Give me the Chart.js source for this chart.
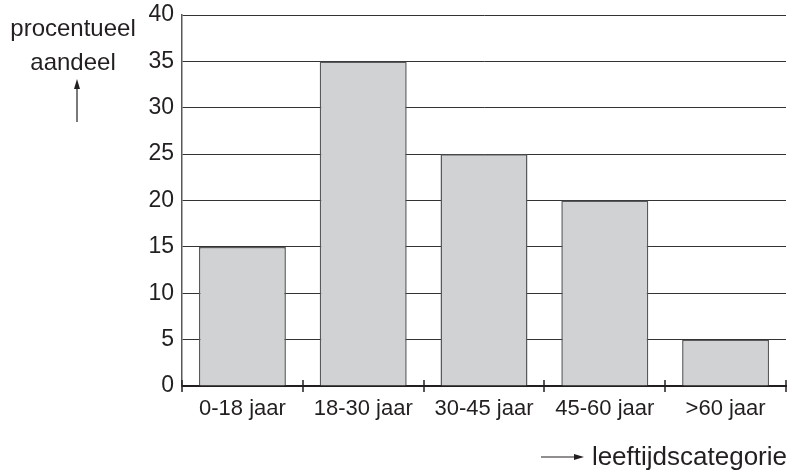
<!DOCTYPE html>
<html>
<head>
<meta charset="utf-8">
<script src="https://cdn.jsdelivr.net/npm/chart.js@4/dist/chart.umd.min.js"></script>
<style>
html,body{margin:0;padding:0;background:#fff;}
#wrap{width:790px;height:472px;}
</style>
</head>
<body>
<div id="wrap"><canvas id="c" width="790" height="472"></canvas></div>
<script>
const categories = ['0-18 jaar', '18-30 jaar', '30-45 jaar', '45-60 jaar', '>60 jaar'];
const shares = [15, 35, 25, 20, 5];
const yTitleLines = ['procentueel', 'aandeel'];
const xTitle = 'leeftijdscategorie';

const FONT = "'Liberation Sans', Arial, sans-serif";
const TXT = '#231f20';

const decor = {
  id: 'decor',
  afterDraw(chart) {
    const ctx = chart.ctx;
    const xs = chart.scales.x;
    const area = chart.chartArea;
    ctx.save();
    const step = xs.getPixelForValue(1) - xs.getPixelForValue(0);
    ctx.strokeStyle = '#231f20';
    ctx.lineWidth = 1.5;
    for (let i = 0; i <= categories.length; i++) {
      const px = Math.round(xs.getPixelForValue(0) - step / 2 + i * step);
      ctx.beginPath();
      ctx.moveTo(px, area.bottom - 6);
      ctx.lineTo(px, area.bottom + 6);
      ctx.stroke();
    }
    ctx.fillStyle = TXT;
    ctx.font = '24px ' + FONT;
    ctx.textAlign = 'center';
    ctx.textBaseline = 'alphabetic';
    ctx.fillText(yTitleLines[0], 73, 36);
    ctx.fillText(yTitleLines[1], 73, 70);
    ctx.lineWidth = 1.2;
    ctx.beginPath();
    ctx.moveTo(77, 122); ctx.lineTo(77, 86); ctx.stroke();
    ctx.beginPath();
    ctx.moveTo(77, 79); ctx.lineTo(74, 89); ctx.lineTo(80, 89); ctx.closePath(); ctx.fill();
    ctx.font = '26px ' + FONT;
    ctx.textAlign = 'right';
    ctx.fillText(xTitle, 787, 465);
    ctx.beginPath();
    ctx.moveTo(541, 457); ctx.lineTo(575, 457); ctx.stroke();
    ctx.beginPath();
    ctx.moveTo(584, 457); ctx.lineTo(574, 454); ctx.lineTo(574, 460); ctx.closePath(); ctx.fill();
    ctx.restore();
  }
};

new Chart(document.getElementById('c'), {
  type: 'bar',
  data: {
    labels: categories,
    datasets: [{
      data: shares,
      backgroundColor: '#d1d2d4',
      borderColor: '#58595b',
      borderWidth: 1.5,
      borderSkipped: 'bottom',
      barPercentage: 0.72,
      categoryPercentage: 1.0
    }]
  },
  options: {
    responsive: false,
    animation: false,
    devicePixelRatio: 1,
    layout: { padding: { top: 15, right: 4, left: 0, bottom: 0 } },
    plugins: { legend: { display: false }, tooltip: { enabled: false } },
    scales: {
      x: {
        offset: true,
        grid: { display: false, drawTicks: false },
        border: { display: true, color: '#231f20', width: 2 },
        ticks: { color: TXT, font: { family: FONT, size: 22 }, padding: 10 },
        afterFit(s) { s.height = 86; s.paddingLeft = 0; s.paddingRight = 0; }
      },
      y: {
        min: 0, max: 40,
        ticks: { stepSize: 5, color: TXT, font: { family: FONT, size: 23 }, padding: 8 },
        grid: { color: '#333333', lineWidth: 1, drawTicks: false },
        border: { display: true, color: '#58595b', width: 1.5 },
        afterFit(s) { s.width = 182; s.paddingTop = 0; s.paddingBottom = 0; }
      }
    }
  },
  plugins: [decor]
});
</script>
</body>
</html>
